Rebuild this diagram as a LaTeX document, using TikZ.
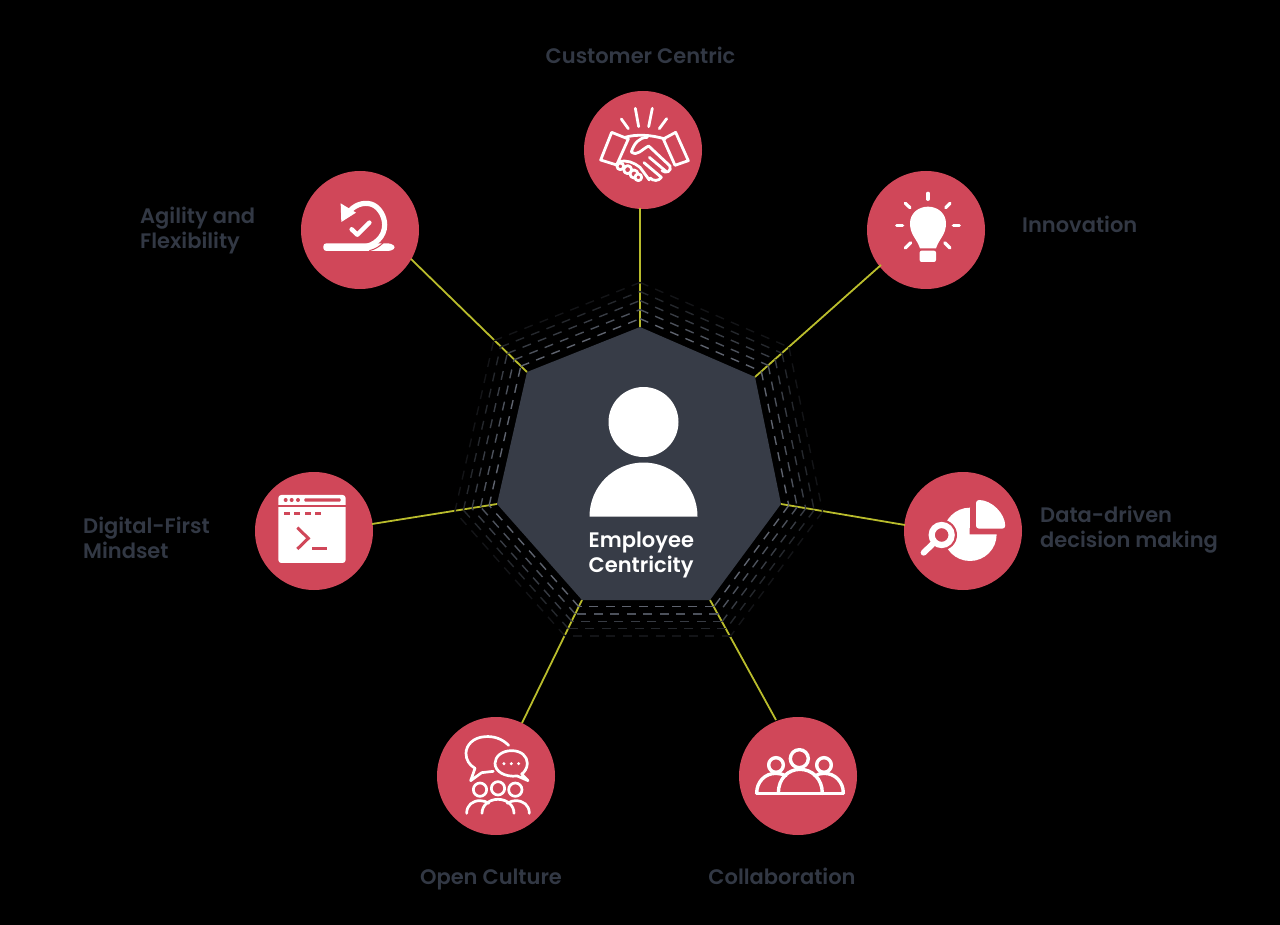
\documentclass[tikz,border=0pt]{standalone}
\usepackage{fontspec}
\setmainfont{Poppins}[BoldFont=Poppins SemiBold]
\usetikzlibrary{calc}
\definecolor{crim}{HTML}{D04759}
\definecolor{slatec}{HTML}{373C47}
\definecolor{lab}{HTML}{323844}
\definecolor{link}{HTML}{B9BC2C}
\def\icow{3pt}
\tikzset{
 disc/.style={circle,fill=crim,minimum size=118pt,inner sep=0pt},
 spoke/.style={draw=link,line width=1.8pt},
 lbl/.style={text=lab,font=\fontsize{21}{24.5}\selectfont\bfseries,align=left,inner sep=0pt},
 ico/.style={draw=white,line width=\icow,line cap=round,line join=round,fill=none},
 ring/.style={line width=1.4pt,dash pattern=on 9pt off 7.5pt},
}
\begin{document}
\begin{tikzpicture}[x=1pt,y=-1pt]
\useasboundingbox (0,0) rectangle (1280,925);
\fill[black] (0,0) rectangle (1280,925);
% heptagon
\coordinate (h1) at (640,327);\coordinate (h2) at (755,377);\coordinate (h3) at (781,504);
\coordinate (h4) at (710,600);\coordinate (h5) at (582,600);\coordinate (h6) at (497,504);\coordinate (h7) at (527,372);
\coordinate (ctr) at (640,478);
% discs
\node[disc] (n1) at (643,150) {};
\node[disc] (n2) at (926,230) {};
\node[disc] (n3) at (963,531) {};
\node[disc] (n4) at (798,776) {};
\node[disc] (n5) at (496,776) {};
\node[disc] (n6) at (314,531) {};
\node[disc] (n7) at (360,230) {};
% spokes
\draw[spoke] (640,208) -- (h1);
\draw[spoke] (n2) ++(-45,35) -- (h2);
\draw[spoke] (n3) ++(-58,-6) -- (h3);
\draw[spoke] (n4) ++(-22,-56) -- (h4);
\draw[spoke] (n5) ++(26,-53) -- (h5);
\draw[spoke] (n6) ++(58,-7) -- (h6);
\draw[spoke] (n7) ++(51,29) -- (h7);
% dashed rings
\definecolor{r1}{HTML}{5E636E}\definecolor{r2}{HTML}{4C515B}\definecolor{r3}{HTML}{383C44}\definecolor{r4}{HTML}{24272C}\definecolor{r5}{HTML}{131417}
\foreach \s/\c in {1.055/r1,1.115/r2,1.175/r3,1.235/r4,1.295/r5}{
 \foreach \a/\b in {h1/h2,h2/h3,h3/h4,h4/h5,h5/h6,h6/h7,h7/h1}{
  \draw[ring,draw=\c] ($(ctr)!\s!(\a)$) -- ($(ctr)!\s!(\b)$);
 }
}
\fill[slatec] (h1)--(h2)--(h3)--(h4)--(h5)--(h6)--(h7)--cycle;
% labels
\node[lbl,anchor=base] (t1) at (640.5,64) {Customer Centric};
\node[lbl,anchor=base west] (t2) at (1022,232.5) {Innovation};
\node[lbl,anchor=north west] (t3) at (1040,506) {Data-driven\\decision making};
\node[lbl,anchor=base] (t4) at (782,884) {Collaboration};
\node[lbl,anchor=base] (t5) at (491,884) {Open Culture};
\node[lbl,anchor=north west] (t6) at (83,517) {Digital-First\\Mindset};
\node[lbl,anchor=north west] (t7) at (140,207) {Agility and\\Flexibility};
% centre person
\fill[white] (643.5,422) circle (35);
\fill[white] (589.5,516.5) arc[start angle=180,end angle=360,radius=54] -- cycle;
\node[text=white,font=\fontsize{21}{24.5}\selectfont\bfseries,align=left,anchor=north west,inner sep=0pt] (t0) at (588.5,532) {Employee\\Centricity};
% handshake icon
\begin{scope}[shift={(560,80)},x=0.3333pt,y=-0.3333pt]
 \def\icow{2.8pt}
 \draw[ico] (155,157) -- (205,177) -- (170,255) -- (122,240) -- cycle;
 \draw[ico] (347,157) -- (385,242) -- (345,256) -- (310,177) -- cycle;
 \draw[ico] (195,172) .. controls (225,163) and (270,163) .. (315,177);
 \draw[ico] (262,172) .. controls (238,172) and (222,190) .. (214,216) .. controls (232,230) and (245,208) .. (266,198) -- (330,258) .. controls (336,274) and (318,282) .. (306,272);
 \draw[ico] (176,246) .. controls (200,238) and (222,248) .. (240,262) -- (268,300);
 \draw[ico] (252,248) -- (304,292) .. controls (296,304) and (280,304) .. (270,294);
 \draw[ico] (268,232) -- (318,274);
 \draw[ico,fill=crim] (181,259) circle (10);
 \draw[ico,fill=crim] (203,269) circle (12);
 \draw[ico,fill=crim] (222,282) circle (12);
 \draw[ico,fill=crim] (235,292) circle (10);
 \draw[ico] (184,117) -- (205,146);\draw[ico] (226,85) -- (236,140);\draw[ico] (277,85) -- (266,140);\draw[ico] (320,116) -- (298,146);
\end{scope}
% bulb icon
\begin{scope}[shift={(860,160)},x=0.3333pt,y=-0.3333pt]
 \fill[white] (180,265) .. controls (170,235) and (150,225) .. (150,190) .. controls (150,160) and (175,140) .. (204,140) .. controls (233,140) and (258,160) .. (258,190) .. controls (258,225) and (238,235) .. (228,265) -- cycle;
 \fill[white,rounded corners=2pt] (179,272) rectangle (228,306);
 \def\icow{3.2pt}
 \foreach \a/\b/\c/\d in {204/100/204/118,136/130/150/143,270/130/257/143,110/197/128/197,298/197/280/197,136/264/152/248,270/264/254/248}{
  \draw[ico] (\a,\b) -- (\c,\d);}
\end{scope}
% agile icon
\begin{scope}[shift={(290,160)},x=0.3333pt,y=-0.3333pt]
 \def\icow{5.2pt}
 \draw[ico,line cap=butt] (180,152) .. controls (200,130) and (230,125) .. (250,135) .. controls (270,145) and (284,170) .. (284,195) .. controls (284,230) and (255,258) .. (215,262);
 \fill[white] (152,130) -- (198,158) -- (154,186) -- cycle;
 \fill[white,rounded corners=3pt] (100,250) -- (303,250) -- (318,262) -- (303,273) -- (100,273) -- cycle;
 \draw[crim,line width=1pt] (238,272) .. controls (255,268) and (268,260) .. (280,248);
 \def\icow{4.5pt}
 \draw[ico] (185,208) -- (202,224) -- (238,188);
\end{scope}
% data icon
\begin{scope}[shift={(895,465)},x=0.3333pt,y=-0.3333pt]
 \fill[white,rounded corners=3pt] (243,105) .. controls (290,105) and (330,145) .. (331,191) -- (243,191) -- cycle;
 \fill[white] (224,208) -- (305,208) arc[start angle=0,end angle=270,radius=80] -- cycle;
 \fill[crim] (140,210) circle (46);
 \draw[white,line width=6.2pt,fill=crim] (140,210) circle (30);
 \draw[white,line width=6pt,line cap=round] (112,238) -- (86,263);
\end{scope}
% terminal icon
\begin{scope}[shift={(245,465)},x=0.3333pt,y=-0.3333pt]
 \fill[white,rounded corners=3pt] (100,90) rectangle (302,294);
 \draw[crim,line width=1.4pt] (100,123) -- (302,123);
 \fill[crim] (122,105) circle (6) (140,105) circle (6) (159,105) circle (6);
 \fill[crim,rounded corners=1pt] (178,100) rectangle (287,110);
 \foreach \x in {116,148,180,209}{\fill[crim] (\x,142) rectangle ++(18,8);}
 \draw[crim,line width=3pt] (157,188) -- (190,220) -- (157,252);
 \draw[crim,line width=3pt] (202,252) -- (247,252);
\end{scope}
% open culture icon
\begin{scope}[shift={(430,710)},x=0.3333pt,y=-0.3333pt]
 \def\icow{2.7pt}
 \draw[ico] (236,106) .. controls (215,85) and (190,78) .. (165,80) .. controls (130,82) and (108,105) .. (108,130) .. controls (108,150) and (118,165) .. (135,175) -- (122,212) -- (155,188) -- (190,184);
 \draw[ico] (195,160) .. controls (195,140) and (215,122) .. (245,122) .. controls (275,122) and (292,140) .. (292,160) .. controls (292,175) and (282,188) .. (275,192) -- (294,212) -- (262,198) .. controls (225,202) and (195,185) .. (195,160) -- cycle;
 \draw[ico] (150,239) circle (20);\draw[ico] (204,235) circle (20);\draw[ico] (256,239) circle (20);
 \draw[ico] (110,310) .. controls (110,285) and (128,272) .. (150,272) .. controls (160,272) and (170,275) .. (176,280);
 \draw[ico] (298,310) .. controls (298,285) and (280,272) .. (256,272) .. controls (248,272) and (240,275) .. (232,280);
 \draw[ico] (156,310) .. controls (156,285) and (178,268) .. (204,268) .. controls (230,268) and (252,285) .. (252,310);
 \fill[white] (222,161) circle (5) (244,161) circle (5) (266,161) circle (5);
\end{scope}
% collaboration icon
\begin{scope}[shift={(735,710)},x=0.3333pt,y=-0.3333pt]
 \def\icow{3.4pt}
 \draw[ico] (193,146) circle (27);
 \draw[ico] (123,165) circle (22);
 \draw[ico] (267,165) circle (22);
 \draw[ico] (65,250) -- (325,250);
 \draw[ico] (65,250) .. controls (65,215) and (90,190) .. (123,190) .. controls (132,190) and (142,192) .. (152,198);
 \draw[ico] (325,250) .. controls (325,215) and (300,190) .. (267,190) .. controls (258,190) and (248,192) .. (240,198);
 \draw[ico] (130,250) .. controls (130,205) and (160,178) .. (195,178) .. controls (230,178) and (262,205) .. (262,250);
\end{scope}
\end{tikzpicture}
\end{document}
